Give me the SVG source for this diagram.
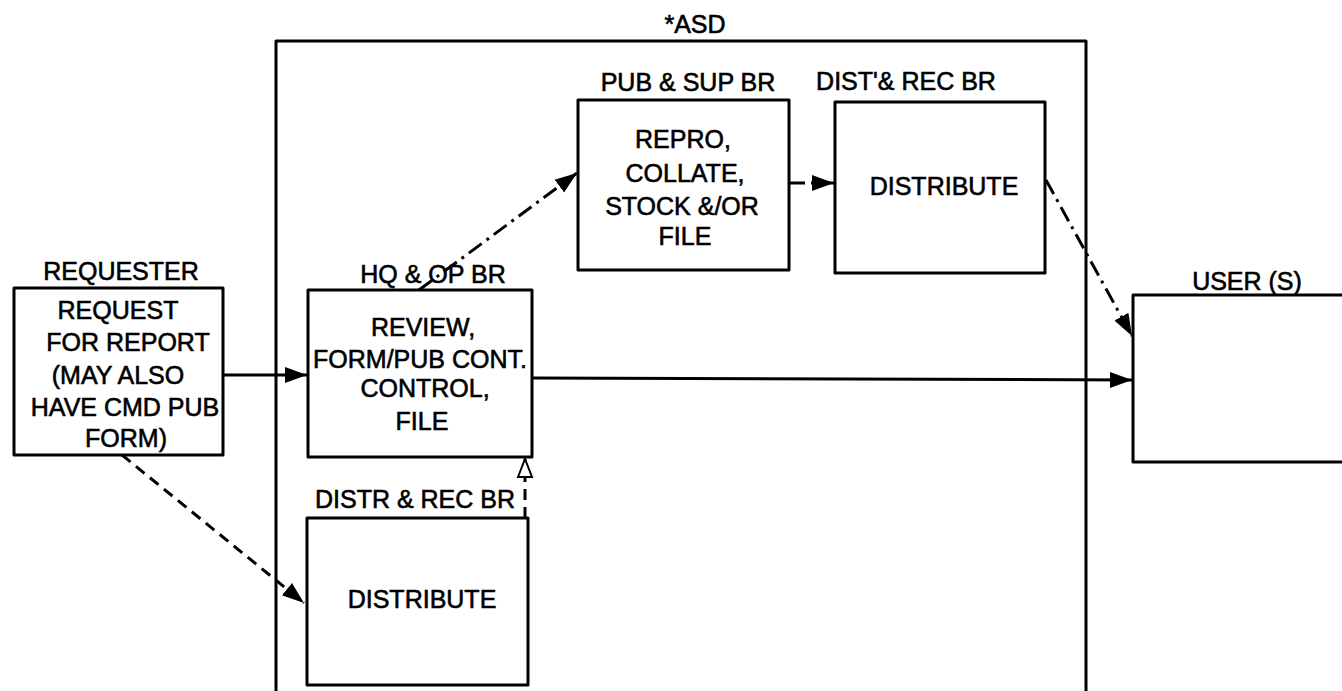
<svg xmlns="http://www.w3.org/2000/svg" width="1342" height="691" viewBox="0 0 1342 691">
<defs>
<style>
.box{fill:none;stroke:#000;stroke-width:3;stroke-linejoin:round}
.t{font-family:"Liberation Sans",Arial,sans-serif;font-size:25px;fill:#000;stroke:#000;stroke-width:0.6;text-anchor:middle}
.c{fill:none;stroke:#000;stroke-width:3}
.dd{stroke-dasharray:16 6 3 6}
.da{stroke-dasharray:11 7}
</style>
<marker id="ah" markerUnits="userSpaceOnUse" viewBox="0 0 24 20" markerWidth="24" markerHeight="20" refX="22" refY="10" orient="auto">
<path d="M0,2 L22,10 L0,18 z" fill="#000" stroke="none"/>
</marker>
<marker id="ho" markerUnits="userSpaceOnUse" viewBox="0 0 24 20" markerWidth="24" markerHeight="20" refX="20" refY="10" orient="auto">
<path d="M2,3 L20,10 L2,17 z" fill="#fff" stroke="#000" stroke-width="2" stroke-dasharray="none"/>
</marker>
</defs>
<rect width="1342" height="691" fill="#fff"/>

<g id="asd">
<path class="box" d="M276,691 L276,41 L1086,41 L1086,691"/>
<text class="t" x="695" y="33">*ASD</text>
</g>

<g id="requester">
<rect class="box" x="14" y="288" width="209" height="167"/>
<text class="t" x="121" y="280">REQUESTER</text>
<text class="t" x="118" y="319">REQUEST</text>
<text class="t" x="128" y="351">FOR REPORT</text>
<text class="t" x="118" y="384">(MAY ALSO</text>
<text class="t" x="125" y="416">HAVE CMD PUB</text>
<text class="t" x="126" y="447">FORM)</text>
</g>

<g id="hq">
<rect class="box" x="308" y="290" width="224" height="167"/>
<text class="t" x="433" y="283">HQ &amp; OP BR</text>
<text class="t" x="423" y="336">REVIEW,</text>
<text class="t" x="420" y="368">FORM/PUB CONT.</text>
<text class="t" x="425" y="397">CONTROL,</text>
<text class="t" x="422" y="430">FILE</text>
</g>

<g id="pub">
<rect class="box" x="578" y="100" width="211" height="170"/>
<text class="t" x="688" y="91">PUB &amp; SUP BR</text>
<text class="t" x="683" y="148">REPRO,</text>
<text class="t" x="685" y="182">COLLATE,</text>
<text class="t" x="682" y="215">STOCK &amp;/OR</text>
<text class="t" x="685" y="245">FILE</text>
</g>

<g id="dist">
<rect class="box" x="835" y="102" width="210" height="171"/>
<text class="t" x="906" y="90">DIST'&amp; REC BR</text>
<text class="t" x="944" y="195">DISTRIBUTE</text>
</g>

<g id="distr">
<rect class="box" x="307" y="518" width="221" height="167"/>
<text class="t" x="415" y="508">DISTR &amp; REC BR</text>
<text class="t" x="422" y="608">DISTRIBUTE</text>
</g>

<g id="users">
<path class="box" d="M1345,295 L1133,295 L1133,462 L1345,462"/>
<text class="t" x="1247" y="290">USER (S)</text>
</g>

<g id="connectors">
<line class="c" x1="223" y1="375" x2="307" y2="375" marker-end="url(#ah)"/>
<line class="c" x1="532" y1="378" x2="1132" y2="380" marker-end="url(#ah)"/>
<line class="c dd" x1="419" y1="290" x2="577" y2="173" marker-end="url(#ah)"/>
<line class="c dd" x1="789" y1="183" x2="834" y2="183" marker-end="url(#ah)"/>
<line class="c dd" x1="1046" y1="180" x2="1132" y2="336" marker-end="url(#ah)"/>
<line class="c da" x1="122" y1="455" x2="304" y2="603" marker-end="url(#ah)"/>
<line class="c da" x1="525" y1="518" x2="525" y2="459" marker-end="url(#ho)"/>
</g>
</svg>
